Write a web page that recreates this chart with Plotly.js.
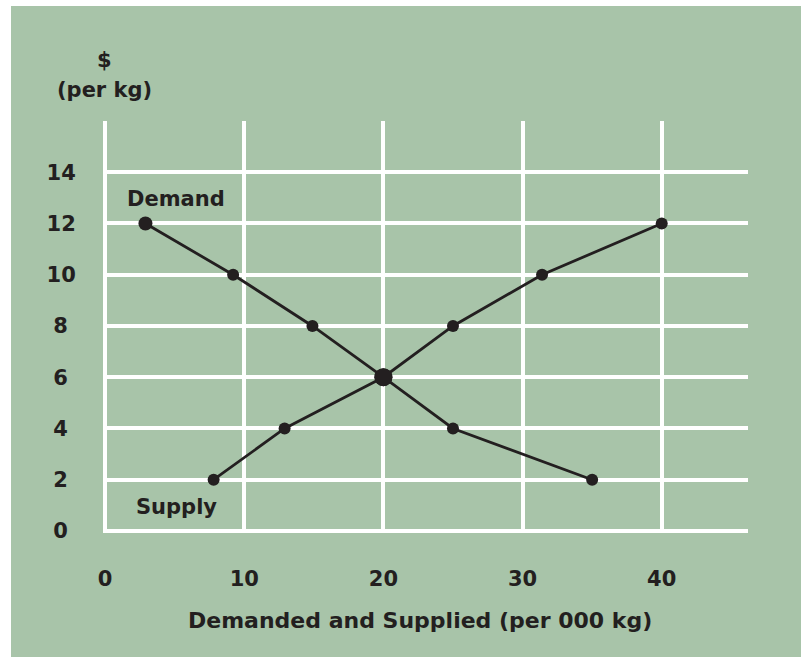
<!DOCTYPE html>
<html>
<head>
<meta charset="utf-8">
<script src="https://cdn.plot.ly/plotly-3.0.1.min.js"></script>
<style>
html,body{margin:0;padding:0;background:#ffffff;}
#chart{position:absolute;left:11px;top:6px;width:790px;height:651px;}
</style>
</head>
<body>
<div id="chart"></div>
<script>
// Data
var demandQty = [2.9, 9.2, 14.9, 20, 25, 35];
var demandPrice = [12, 10, 8, 6, 4, 2];
var supplyQty = [7.8, 12.9, 20, 25, 31.4, 40];
var supplyPrice = [2, 4, 6, 8, 10, 12];
var xTicks = [0, 10, 20, 30, 40];
var yTicks = [0, 2, 4, 6, 8, 10, 12, 14];
var yTickLabels = yTicks.map(function (v) { return v < 10 ? String(v) + "\u2008" : String(v); });

var ink = "#231f20";
var green = "#a8c4a9";
var fontFam = "DejaVu Sans, Liberation Sans, Arial, sans-serif";

var traces = [
  {
    x: demandQty, y: demandPrice, type: "scatter", mode: "lines+markers", name: "Demand",
    line: {color: ink, width: 2.8},
    marker: {color: ink, opacity: 1, size: [14, 12, 12, 18, 12, 12], line: {width: 0}},
    hoverinfo: "skip"
  },
  {
    x: supplyQty, y: supplyPrice, type: "scatter", mode: "lines+markers", name: "Supply",
    line: {color: ink, width: 2.8},
    marker: {color: ink, opacity: 1, size: [12, 12, 18, 12, 12, 12], line: {width: 0}},
    hoverinfo: "skip"
  }
];

function tf(sz) { return {family: fontFam, size: sz, color: ink, weight: "bold"}; }

var layout = {
  width: 790, height: 651,
  paper_bgcolor: green, plot_bgcolor: green,
  margin: {l: 92, r: 53, t: 115, b: 124},
  showlegend: false,
  xaxis: {
    range: [-0.15, 46.2], tickvals: xTicks, ticktext: xTicks.map(String),
    showgrid: true, gridcolor: "#ffffff", gridwidth: 4,
    zeroline: false, showline: false,
    ticks: "outside", ticklen: 27, tickcolor: "rgba(0,0,0,0)",
    tickfont: tf(21), fixedrange: true
  },
  yaxis: {
    range: [-0.08, 16], tickvals: yTicks, ticktext: yTickLabels,
    showgrid: true, gridcolor: "#ffffff", gridwidth: 4,
    zeroline: false, showline: false,
    ticks: "outside", ticklen: 22, tickcolor: "rgba(0,0,0,0)",
    tickfont: tf(21), fixedrange: true
  },
  annotations: [
    {text: "Demand", x: 5.1, y: 12.94, xref: "x", yref: "y", xanchor: "center", yanchor: "middle", showarrow: false, font: tf(21)},
    {text: "Supply", x: 5.1, y: 0.92, xref: "x", yref: "y", xanchor: "center", yanchor: "middle", showarrow: false, font: tf(21)},
    {text: "$", x: 0.003, y: 1.148, xref: "paper", yref: "paper", xanchor: "center", yanchor: "middle", showarrow: false, font: tf(21)},
    {text: "(per kg)", x: 0.003, y: 1.075, xref: "paper", yref: "paper", xanchor: "center", yanchor: "middle", showarrow: false, font: tf(21)},
    {text: "Demanded and Supplied (per 000 kg)", x: 0.491, y: -0.212, xref: "paper", yref: "paper", xanchor: "center", yanchor: "middle", showarrow: false, font: tf(22)}
  ]
};

Plotly.newPlot("chart", traces, layout, {displayModeBar: false, staticPlot: true});
</script>
</body>
</html>
